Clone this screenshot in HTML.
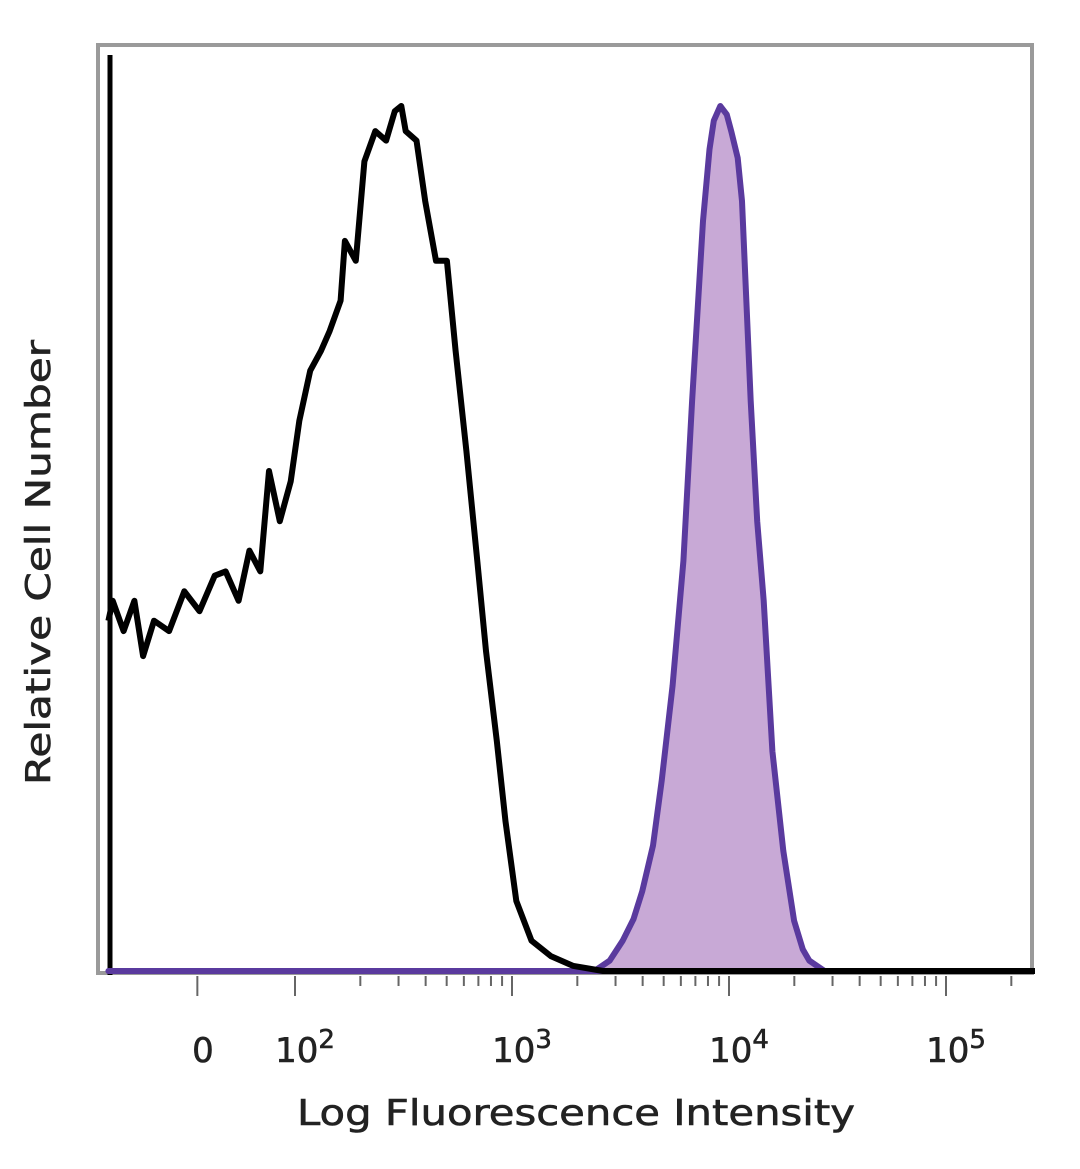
<!DOCTYPE html>
<html><head><meta charset="utf-8"><style>
html,body{margin:0;padding:0;background:#fff;}
svg{display:block;font-family:"DejaVu Sans","Liberation Sans",sans-serif;}
</style></head><body>
<svg id="chart" width="1080" height="1169" viewBox="0 0 1080 1169" xmlns="http://www.w3.org/2000/svg">
<rect x="98" y="45" width="934" height="928" fill="#fff" stroke="#9a9a9a" stroke-width="4"/>
<line x1="110" y1="55" x2="110" y2="975" stroke="#000" stroke-width="5"/>
<g id="ticks"></g>
<g id="series"></g>
<text transform="translate(50,785) rotate(-90)" font-size="34" textLength="445" lengthAdjust="spacingAndGlyphs" fill="#222" stroke="#222" stroke-width="0.6">Relative Cell Number</text>
<text x="297" y="1125" font-size="36" textLength="558" lengthAdjust="spacingAndGlyphs" fill="#222" stroke="#222" stroke-width="0.6">Log Fluorescence Intensity</text>
</svg>
<script>
const blackLog=[1.14,1.16,1.21,1.26,1.30,1.35,1.42,1.49,1.56,1.63,1.68,1.74,1.79,1.84,1.88,1.93,1.98,2.02,2.07,2.12,2.16,2.21,2.23,2.28,2.32,2.37,2.42,2.46,2.49,2.51,2.56,2.60,2.65,2.70,2.74,2.79,2.84,2.88,2.93,2.97,3.02,3.09,3.18,3.28,3.42,3.65,5.41];
const blackCount=[40.5,42.8,39.3,42.8,36.4,40.5,39.3,43.9,41.6,45.7,46.2,42.8,48.6,46.2,57.8,52.0,56.6,63.6,69.4,71.7,74.0,77.5,84.4,82.1,93.6,97.1,96.0,99.4,100,97.1,96.0,89.0,82.1,82.1,71.7,60.1,47.4,37.0,26.6,17.3,8.1,3.5,1.7,0.6,0,0,0];
const purpleLog=[1.14,3.38,3.45,3.51,3.56,3.60,3.65,3.69,3.74,3.79,3.83,3.88,3.91,3.93,3.96,3.99,4.01,4.04,4.06,4.10,4.13,4.16,4.20,4.25,4.30,4.34,4.37,4.44];
const purpleCount=[0,0,1.2,3.5,6.0,9.2,14.5,22.0,33.0,47.4,65.9,86.7,95.0,98.3,100,99.0,97.1,94.0,89.0,65.9,52.0,42.8,25.4,13.9,5.8,2.5,1.2,0];
const tickLabels=["0","10","10","10","10"];
const tickExps=["","2","3","4","5"];
const tickLogs=[1.55,2,3,4,5];

const NS="http://www.w3.org/2000/svg";
const xs=L=>295+(L-2)*217;
const ys=c=>971-c*8.65;
const series=document.getElementById('series');
const ticks=document.getElementById('ticks');

function pathOf(ls,cs){return ls.map((l,i)=>(i?'L':'M')+xs(l).toFixed(1)+','+ys(cs[i]).toFixed(1)).join(' ');}

const fill=document.createElementNS(NS,'path');
fill.setAttribute('d',pathOf(purpleLog,purpleCount)+' Z');
fill.setAttribute('fill','#c8a9d6');
fill.setAttribute('stroke','#5a3a9e');
fill.setAttribute('stroke-width','6');
fill.setAttribute('stroke-linejoin','round');


series.appendChild(fill);

const bl=document.createElementNS(NS,'path');
bl.setAttribute('d',pathOf(blackLog,blackCount));
bl.setAttribute('fill','none');
bl.setAttribute('stroke','#000');
bl.setAttribute('stroke-width','6');
bl.setAttribute('stroke-linejoin','round');


series.appendChild(bl);

const minor=[];
for(let d=2;d<=5;d++){for(let m=2;m<=9;m++){const L=d+Math.log10(m);if(L<5.42)minor.push(L);}}
minor.forEach(L=>{
  const t=document.createElementNS(NS,'line');
  t.setAttribute('x1',xs(L));t.setAttribute('x2',xs(L));
  t.setAttribute('y1',976);t.setAttribute('y2',986);
  t.setAttribute('stroke','#666');t.setAttribute('stroke-width','2');
  
  
  ticks.appendChild(t);
});
tickLogs.forEach((L,i)=>{
  const x=xs(L);
  const t=document.createElementNS(NS,'line');
  t.setAttribute('x1',x);t.setAttribute('x2',x);
  t.setAttribute('y1',976);t.setAttribute('y2',996);
  t.setAttribute('stroke','#666');t.setAttribute('stroke-width','2');
  
  
  ticks.appendChild(t);
  const tx=document.createElementNS(NS,'text');
  tx.setAttribute('x',i===0?203:x+10);
  tx.setAttribute('y',1062);
  tx.setAttribute('font-size','34');
  tx.setAttribute('text-anchor','middle');
  tx.setAttribute('fill','#222');
  tx.setAttribute('stroke','#222');
  tx.setAttribute('stroke-width','0.6');
  tx.textContent=tickLabels[i];
  if(tickExps[i]){
    const s=document.createElementNS(NS,'tspan');
    s.setAttribute('dy','-14');s.setAttribute('font-size','26');
    s.textContent=tickExps[i];
    tx.appendChild(s);
  }
  
  
  ticks.appendChild(tx);
});
</script>
</body></html>
